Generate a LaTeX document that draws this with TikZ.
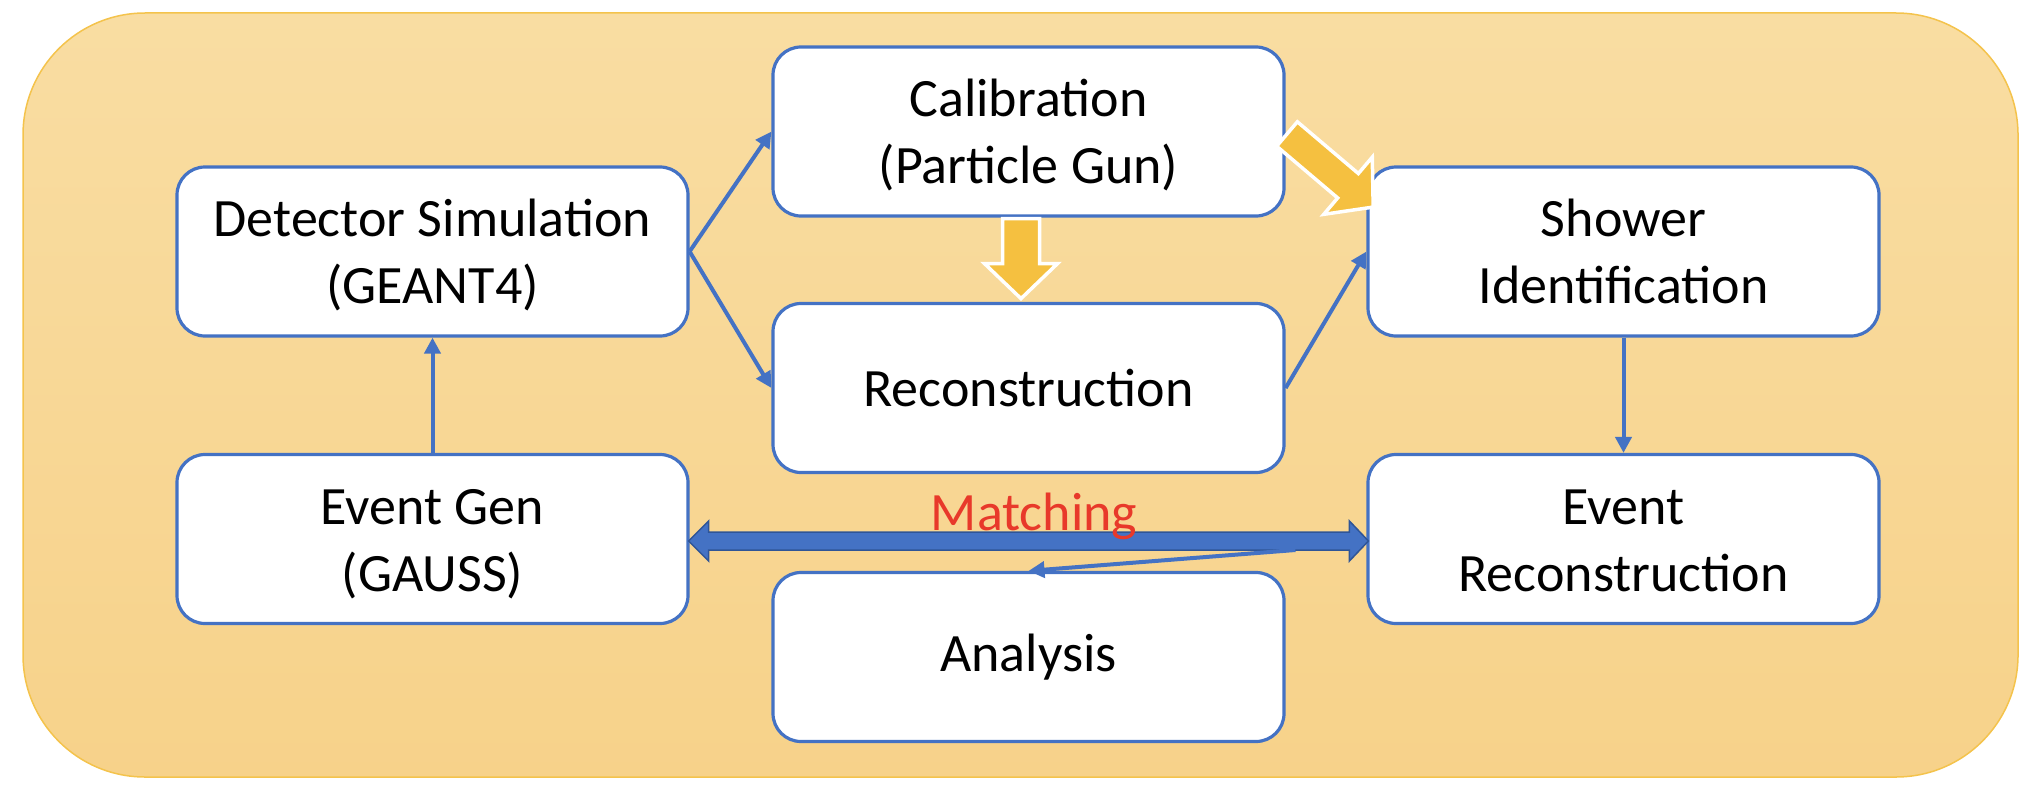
\documentclass[tikz,border=0pt]{standalone}
\usepackage{fontspec}
\setmainfont{Carlito}
\usetikzlibrary{arrows.meta,calc}
\definecolor{bgtop}{HTML}{F9DDA2}
\definecolor{bgbot}{HTML}{F7D28A}
\definecolor{bgedge}{HTML}{F4C34C}
\definecolor{boxblue}{HTML}{4472C4}
\definecolor{darkblue}{HTML}{2F5597}
\definecolor{goldarrow}{HTML}{F5C040}
\definecolor{matchred}{HTML}{E8392A}
\newcommand\lnstrut{\rule[-14.4pt]{0pt}{66.2pt}}
\begin{document}
\begin{tikzpicture}[x=1pt,y=-1pt,
 stagebox/.style={draw=boxblue, line width=3.2pt, fill=white, rounded corners=28pt, minimum width=511pt, minimum height=169pt, align=center, inner sep=0pt, font=\fontsize{54}{67}\selectfont},
 flow/.style={draw=boxblue, line width=4pt, -{Triangle[length=16pt,width=16pt]}},
 blockarrow/.style={fill=goldarrow, draw=white, line width=3.5pt, line join=miter}]
\useasboundingbox (0,0) rectangle (2044,800);
\shade[top color=bgtop, bottom color=bgbot, rounded corners=122pt] (23,13) rectangle (2018,777);
\draw[bgedge, line width=1.5pt, rounded corners=122pt] (23,13) rectangle (2018,777);

\node[stagebox] (det) at (432.5,251.5) {\lnstrut Detector Simulation\\\lnstrut(GEANT4)};
\node[stagebox] (cal) at (1028.5,131.5) {\lnstrut Calibration\\\lnstrut(Particle Gun)};
\node[stagebox] (rec) at (1028.5,388) {Reconstruction};
\node[stagebox] (sho) at (1623.5,251.5) {\lnstrut Shower\\\lnstrut Identification};
\node[stagebox] (evg) at (432.5,539) {\lnstrut Event Gen\\\lnstrut(GAUSS)};
\node[stagebox] (evr) at (1623.5,539) {\lnstrut Event\\\lnstrut Reconstruction};
\node[stagebox] (ana) at (1028.5,657) {Analysis};

\draw[flow] (det.east) -- (cal.west);
\draw[flow] (det.east) -- (rec.west);
\draw[flow] (rec.east) -- (sho.west);
\draw[flow] (evg.north) -- (det.south);
\draw[flow] (sho.south) -- (evr.north);

\coordinate (mL) at ($(evg.east)+(-1,2)$);
\coordinate (mR) at ($(evr.west)+(2,2)$);
\filldraw[fill=boxblue, draw=darkblue, line width=1.5pt, line join=miter]
  (mL) -- ++(20,-20) -- ++(0,11) -- ($(mR)+(-19,-9)$) -- ++(0,-11) -- (mR)
  -- ++(-19,20) -- ++(0,-11) -- ($(mL)+(20,9)$) -- ++(0,11) -- cycle;
\node[anchor=base, text=matchred, font=\fontsize{54}{60}\selectfont] (match) at (1034,530) {Matching};
\coordinate (mS) at ($(evr.west)+(-71,11)$);
\draw[flow] (mS) -- (ana.north);

\begin{scope}[shift={($(cal.south)+(-7.5,1)$)}, rotate=-90]
\path[blockarrow] (0,-18.5) -- (45,-18.5) -- (45,-36.5) -- (80,0) -- (45,36.5) -- (45,18.5) -- (0,18.5) -- cycle;
\end{scope}
\begin{scope}[shift={(1287,134)}, rotate=-40.3]
\path[blockarrow] (0,-16) -- (80,-16) -- (80,-37.5) -- (113,0) -- (80,37.5) -- (80,16) -- (0,16) -- cycle;
\end{scope}
\end{tikzpicture}
\end{document}
